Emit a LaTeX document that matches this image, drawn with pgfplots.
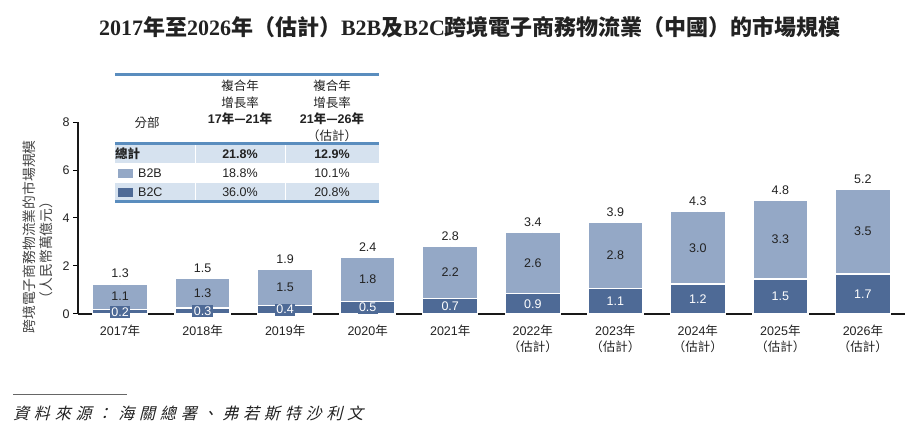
\documentclass[border=0pt]{standalone}
\usepackage{fontspec}
\setmainfont{Liberation Sans}
\newfontfamily\cjk{Noto Sans CJK TC}
\newfontfamily\cjksrc[FakeSlant=0.25,LetterSpace=30]{Noto Sans CJK TC}
\newfontfamily\titleserif{Liberation Serif}
\usepackage{pgfplots}
\usepackage{pgfplotstable}
\pgfplotsset{compat=1.18}
\definecolor{btwob}{HTML}{94A8C6}
\definecolor{btwoc}{HTML}{4E6A96}
\definecolor{tline}{HTML}{5A8DBE}
\definecolor{tband}{HTML}{D6E2EF}
\definecolor{txt}{HTML}{222222}

\pgfplotstableread{
x b2c tot b2cl b2bl totl b2cm b2bm
0 0.19 1.26 0.2 1.1 1.3 0.095 0.725
1 0.26 1.50 0.3 1.3 1.5 0.13 0.88
2 0.36 1.86 0.4 1.5 1.9 0.18 1.11
3 0.53 2.36 0.5 1.8 2.4 0.265 1.445
4 0.65 2.82 0.7 2.2 2.8 0.325 1.735
5 0.85 3.39 0.9 2.6 3.4 0.425 2.12
6 1.06 3.84 1.1 2.8 3.9 0.53 2.45
7 1.24 4.27 1.2 3.0 4.3 0.62 2.755
8 1.45 4.75 1.5 3.3 4.8 0.725 3.10
9 1.66 5.20 1.7 3.5 5.2 0.83 3.43
}\data

\newcommand{\fs}{\fontsize{12.5}{16}\selectfont}

\begin{document}
\begin{tikzpicture}[x=1pt,y=1pt]
\path[use as bounding box] (0pt,0pt) rectangle (913pt,433pt);
\begin{axis}[
  at={(78pt,119pt)}, anchor=south west,
  scale only axis, width=827pt, height=192pt,
  xmin=-0.51, xmax=9.51, ymin=0, ymax=8,
  axis x line*=bottom, axis y line*=left,
  x axis line style={line width=2pt, color=black!90},
  y axis line style={line width=1.3pt, color=black!90},
  clip=false,
  ytick={0,2,4,6,8},
  tick align=outside, major tick length=5pt,
  ytick style={line width=1pt, color=black},
  xtick style={draw=none},
  xtick={0,...,9},
  xticklabels={{2017{\cjk 年}},{2018{\cjk 年}},{2019{\cjk 年}},{2020{\cjk 年}},{2021{\cjk 年}},
    {2022{\cjk 年}\\{\cjk （估計）}},{2023{\cjk 年}\\{\cjk （估計）}},{2024{\cjk 年}\\{\cjk （估計）}},
    {2025{\cjk 年}\\{\cjk （估計）}},{2026{\cjk 年}\\{\cjk （估計）}}},
  xticklabel style={align=center, font=\fs, text=txt, yshift=-2.5pt},
  yticklabel style={font=\fs, text=txt},
  /pgf/number format/assume math mode=true,
]
\addplot[ybar, bar width=55pt, bar shift=0pt, fill=btwob, draw=white, line width=1.5pt] table[x=x,y=tot]{\data};
\addplot[ybar, bar width=55pt, bar shift=0pt, fill=btwoc, draw=white, line width=1.5pt] table[x=x,y=b2c]{\data};
\addplot[only marks, mark=*, mark size=0pt, mark options={draw=none,fill=none},
  nodes near coords, point meta=explicit symbolic,
  every node near coord/.append style={anchor=center, font=\fs, text=white, fill=btwoc, inner sep=1.5pt}]
  table[x=x,y=b2cm,meta=b2cl]{\data};
\addplot[only marks, mark=*, mark size=0pt, mark options={draw=none,fill=none},
  nodes near coords, point meta=explicit symbolic,
  every node near coord/.append style={anchor=center, font=\fs, text=txt, inner sep=1pt}]
  table[x=x,y=b2bm,meta=b2bl]{\data};
\addplot[only marks, mark=*, mark size=0pt, mark options={draw=none,fill=none},
  nodes near coords, point meta=explicit symbolic,
  every node near coord/.append style={anchor=south, yshift=5.5pt, font=\fs, text=txt, inner sep=0pt}]
  table[x=x,y=tot,meta=totl]{\data};
\end{axis}

\begin{scope}[shift={(0,433)}, yscale=-1]
  % title
  \node[text=txt] at (470,27) {\fontsize{22}{26}\selectfont
    {\titleserif\bfseries 2017}{\cjk\bfseries 年至}{\titleserif\bfseries 2026}{\cjk\bfseries 年（估計）}{\titleserif\bfseries B2B}{\cjk\bfseries 及}{\titleserif\bfseries B2C}{\cjk\bfseries 跨境電子商務物流業（中國）的市場規模}};
  % y label
  \node[rotate=90, text=txt!85] at (29,237) {\fontsize{13.8}{16}\selectfont\cjk 跨境電子商務物流業的市場規模};
  \node[rotate=90, text=txt!85] at (46,250) {\fontsize{13.8}{16}\selectfont\cjk （人民幣萬億元）};
  % table
  \fill[tband] (115,145.5) rectangle (379,163);
  \fill[tband] (115,183) rectangle (379,200);
  \draw[white, line width=1pt] (195,145.5) -- (195,163) (285,145.5) -- (285,163);
  \draw[white, line width=1pt] (195,183) -- (195,200) (285,183) -- (285,200);
  \draw[tline, line width=3pt] (115,75) -- (379,75);
  \draw[tline, line width=3pt] (115,144) -- (379,144);
  \draw[tline, line width=3pt] (115,201.5) -- (379,201.5);
  \begin{scope}[every node/.style={text=txt, font=\fs, inner sep=0pt}]
  \node at (147,123) {\cjk 分部};
  \node at (240,86) {\cjk 複合年};
  \node at (240,103) {\cjk 增長率};
  \node at (240,119) {\bfseries 17{\cjk 年—}21{\cjk 年}};
  \node at (332,86) {\cjk 複合年};
  \node at (332,103) {\cjk 增長率};
  \node at (332,119) {\bfseries 21{\cjk 年—}26{\cjk 年}};
  \node at (332,136) {\cjk （估計）};
  \node[anchor=west] at (115,154) {\cjk\bfseries 總計};
  \node at (240,154) {\bfseries 21.8\%};
  \node at (332,154) {\bfseries 12.9\%};
  \fill[btwob] (118,169) rectangle (133,178);
  \node[anchor=west] at (138,173) {B2B};
  \node at (240,173) {18.8\%};
  \node at (332,173) {10.1\%};
  \fill[btwoc] (118,188) rectangle (133,197);
  \node[anchor=west] at (138,192) {B2C};
  \node at (240,192) {36.0\%};
  \node at (332,192) {20.8\%};
  \end{scope}
  % source
  \draw[black!60, line width=0.8pt] (13,394) -- (127,394);
  \node[anchor=west, inner sep=0pt, text=txt] at (13,413) {\fontsize{16}{19}\selectfont\cjksrc 資料來源：\hspace{6pt}海關總署、弗若斯特沙利文};
\end{scope}
\end{tikzpicture}
\end{document}
